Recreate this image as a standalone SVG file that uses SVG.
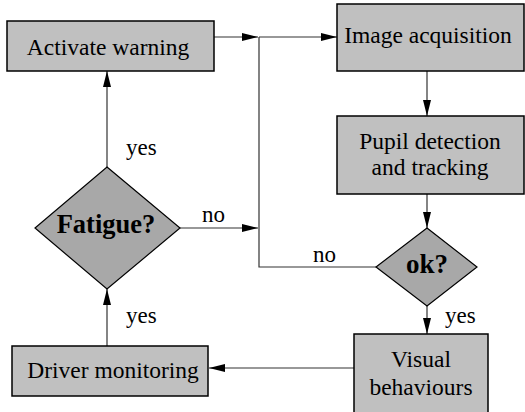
<svg xmlns="http://www.w3.org/2000/svg" width="525" height="412" viewBox="0 0 525 412">
  <defs>
    <marker id="arrow" markerWidth="16" markerHeight="8" refX="16" refY="4" orient="auto" markerUnits="userSpaceOnUse">
      <path d="M0,0 L16,4 L0,8 Z" fill="#000"/>
    </marker>
  </defs>
  <style>
    text { font-family: 'Liberation Serif', 'Times New Roman', 'DejaVu Serif', serif; fill: #000; }
    .box { fill: #c0c0c0; stroke: #000; stroke-width: 1.5; }
    .dec { fill: #a8a8a8; stroke: #000; stroke-width: 1.2; }
    .txt { font-size: 23.5px; text-anchor: middle; }
    .bold { font-weight: bold; text-anchor: middle; }
    .lbl { font-size: 23px; }
    .ln { fill: none; stroke: #333; stroke-width: 1.2; }
  </style>
  <rect width="525" height="412" fill="#fff"/>

  <g id="connectors">
    <!-- Activate warning to the merge line -->
    <line class="ln" x1="214" y1="37" x2="258" y2="37" marker-end="url(#arrow)"/>
    <!-- merge line down to the "no" branch of ok? -->
    <polyline class="ln" points="259,37 259,267 376,267"/>
    <!-- merge line to Image acquisition -->
    <line class="ln" x1="259" y1="37" x2="337" y2="37" marker-end="url(#arrow)"/>
    <!-- Image acquisition to Pupil detection -->
    <line class="ln" x1="427" y1="71" x2="427" y2="116" marker-end="url(#arrow)"/>
    <!-- Pupil detection to ok? -->
    <line class="ln" x1="427" y1="194" x2="427" y2="228" marker-end="url(#arrow)"/>
    <!-- ok? yes to Visual behaviours -->
    <line class="ln" x1="427" y1="306" x2="427" y2="334" marker-end="url(#arrow)"/>
    <!-- Visual behaviours to Driver monitoring -->
    <line class="ln" x1="354" y1="368" x2="209" y2="368" marker-end="url(#arrow)"/>
    <!-- Driver monitoring to Fatigue? -->
    <line class="ln" x1="107" y1="346" x2="107" y2="289" marker-end="url(#arrow)"/>
    <!-- Fatigue? yes to Activate warning -->
    <line class="ln" x1="107" y1="167" x2="107" y2="71" marker-end="url(#arrow)"/>
    <!-- Fatigue? no to merge line -->
    <line class="ln" x1="180" y1="228" x2="258" y2="228" marker-end="url(#arrow)"/>

    <text class="lbl" x="126" y="155" font-family="Liberation Serif, serif">yes</text>
    <text class="lbl" x="202" y="222" font-family="Liberation Serif, serif">no</text>
    <text class="lbl" x="126" y="323" font-family="Liberation Serif, serif">yes</text>
    <text class="lbl" x="313" y="262" font-family="Liberation Serif, serif">no</text>
    <text class="lbl" x="445" y="323" font-family="Liberation Serif, serif">yes</text>
  </g>

  <g id="activate-warning">
    <rect class="box" x="7" y="21" width="207" height="50"/>
    <text class="txt" x="108" y="55" font-family="Liberation Serif, serif">Activate warning</text>
  </g>

  <g id="image-acquisition">
    <rect class="box" x="337" y="4" width="187" height="67"/>
    <text class="txt" x="428" y="43" font-family="Liberation Serif, serif">Image acquisition</text>
  </g>

  <g id="pupil-detection">
    <rect class="box" x="337" y="116" width="187" height="78"/>
    <text class="txt" x="430" y="149" font-family="Liberation Serif, serif">Pupil detection</text>
    <text class="txt" x="430" y="175" font-family="Liberation Serif, serif">and tracking</text>
  </g>

  <g id="ok">
    <polygon class="dec" points="427,228 477,267 427,306 376,267"/>
    <text class="bold" x="427" y="273" font-size="27" font-family="Liberation Serif, serif">ok?</text>
  </g>

  <g id="visual-behaviours">
    <rect class="box" x="354" y="334" width="134" height="82"/>
    <text class="txt" x="421" y="367" font-family="Liberation Serif, serif">Visual</text>
    <text class="txt" x="421" y="395" font-family="Liberation Serif, serif">behaviours</text>
  </g>

  <g id="driver-monitoring">
    <rect class="box" x="12" y="346" width="196" height="50"/>
    <text class="txt" x="113" y="378" font-family="Liberation Serif, serif">Driver monitoring</text>
  </g>

  <g id="fatigue">
    <polygon class="dec" points="107,167 180,228 107,289 35,228"/>
    <text class="bold" x="106" y="233" font-size="26.5" font-family="Liberation Serif, serif">Fatigue?</text>
  </g>
</svg>
